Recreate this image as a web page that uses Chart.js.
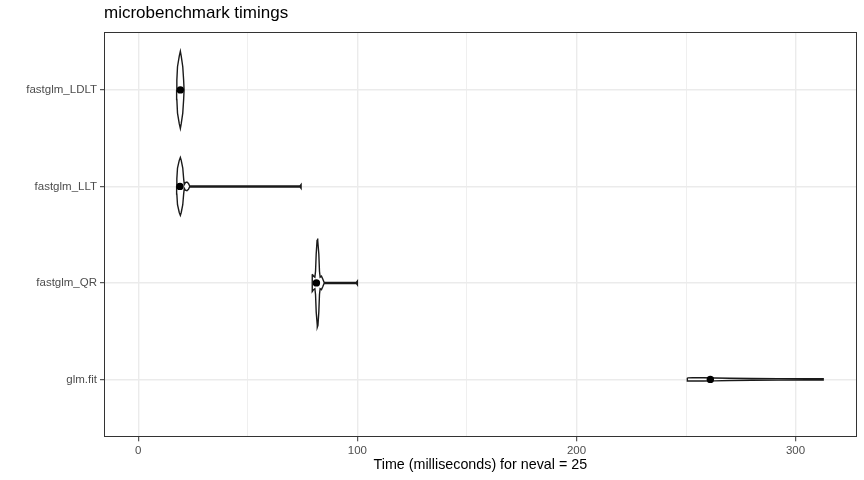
<!DOCTYPE html>
<html><head><meta charset="utf-8">
<script src="https://cdn.jsdelivr.net/npm/chart.js@4"></script>
<style>html,body{margin:0;padding:0;background:#fff}</style>
</head><body>
<canvas id="c" width="864" height="480" style="width:864px;height:480px;display:block"></canvas>
<script>
// ---- data ----
const categories = ['fastglm_LDLT', 'fastglm_LLT', 'fastglm_QR', 'glm.fit'];
const medians = [19.2, 19.0, 81.3, 261.1];
const xTickValues = [0, 50, 100, 150, 200, 250, 300];

// violin outlines: time (ms) and half-width (density width, category units)
const ldltTime = [17.5, 17.6, 17.9, 18.7, 19.2, 19.6, 20.3, 20.7, 20.9];
const ldltHalfWidth = [0, 0.10, 0.24, 0.35, 0.40, 0.35, 0.24, 0.10, 0];

const lltTime = [17.5, 17.6, 17.9, 18.7, 19.2, 19.6, 20.3, 20.7, 21.0, 21.5, 22.2, 22.9, 23.4, 73.8, 74.3];
const lltHalfWidth = [0, 0.08, 0.19, 0.27, 0.30, 0.27, 0.19, 0.08, 0.02, 0.04, 0.045, 0.03, 0.006, 0.005, 0.02];

const qrTime = [79.4, 80.0, 80.6, 80.9, 81.2, 81.6, 81.8, 82.0, 82.4, 82.7, 83.0, 83.6, 84.2, 84.8, 99.5, 100.0];
const qrHalfWidth = [0.09, 0.07, 0.06, 0.12, 0.30, 0.44, 0.46, 0.44, 0.30, 0.12, 0.06, 0.07, 0.04, 0.006, 0.005, 0.02];

const glmTime = [250.6, 253, 258, 263, 270, 280, 292, 305, 312.6];
const glmHalfWidth = [0.016, 0.017, 0.017, 0.015, 0.012, 0.009, 0.008, 0.007, 0.007];

// ---- build ----
function violinOutline(catIndex, times, halfWidths) {
  const pos = catIndex + 1;
  const upper = times.map((t, i) => ({x: t, y: pos - halfWidths[i]}));
  const lower = times.map((t, i) => ({x: t, y: pos + halfWidths[i]})).reverse();
  return upper.concat(lower, [upper[0]]);
}
const violins = [
  violinOutline(0, ldltTime, ldltHalfWidth),
  violinOutline(1, lltTime, lltHalfWidth),
  violinOutline(2, qrTime, qrHalfWidth),
  violinOutline(3, glmTime, glmHalfWidth)
];

const FONT = "'Liberation Sans', Arial, Helvetica, sans-serif";

const panelBorder = {
  id: 'panelBorder',
  afterDraw(chart) {
    const {ctx, chartArea: a} = chart;
    ctx.save();
    ctx.strokeStyle = '#333333';
    ctx.lineWidth = 1;
    ctx.strokeRect(Math.round(a.left) + 0.5, Math.round(a.top) + 0.5,
                   Math.round(a.right - a.left) - 1, Math.round(a.bottom - a.top) - 1);
    ctx.restore();
  }
};
const titleLeft = {
  id: 'titleLeft',
  afterLayout(chart) {
    if (chart.titleBlock) chart.titleBlock.left = chart.chartArea.left;
  }
};

const datasets = [{
  label: 'median',
  data: medians.map((m, i) => ({x: m, y: i + 1})),
  pointRadius: 3.7,
  pointBackgroundColor: '#000000',
  pointBorderWidth: 0,
  showLine: false
}].concat(violins.map((v, i) => ({
  label: categories[i],
  data: v,
  showLine: true,
  fill: 'shape',
  backgroundColor: '#FFFFFF',
  borderColor: '#1A1A1A',
  borderWidth: 1.4,
  pointRadius: 0,
  tension: 0
})));

new Chart(document.getElementById('c'), {
  type: 'scatter',
  data: {datasets},
  plugins: [panelBorder, titleLeft],
  options: {
    responsive: false,
    animation: false,
    devicePixelRatio: 1,
    layout: {padding: {left: 0, right: 7.3, top: 0, bottom: 6.4}},
    plugins: {
      legend: {display: false},
      tooltip: {enabled: false},
      title: {
        display: true,
        text: 'microbenchmark timings',
        align: 'start',
        color: '#000000',
        font: {family: FONT, size: 17, weight: 'normal'},
        padding: {top: 3, bottom: 8.6}
      }
    },
    scales: {
      x: {
        type: 'linear',
        min: -15.65,
        max: 327.9,
        afterBuildTicks(scale) { scale.ticks = xTickValues.map(v => ({value: v})); },
        afterFit(scale) { scale.height = 480 - 6.4 - 437.3; },
        ticks: {
          autoSkip: false, maxRotation: 0, padding: 3,
          color: '#4D4D4D',
          font: {family: FONT, size: 11.5},
          callback: (v) => (v % 100 === 0 ? String(v) : '')
        },
        grid: {
          color: '#EBEBEB',
          lineWidth: (ctx) => (ctx.tick && ctx.tick.value % 100 === 0 ? 1.4 : 0.8),
          tickColor: (ctx) => (ctx.tick && ctx.tick.value % 100 === 0 ? '#333333' : 'rgba(0,0,0,0)'),
          tickLength: 4,
          tickWidth: 1
        },
        border: {display: false},
        title: {
          display: true,
          text: 'Time (milliseconds) for neval = 25',
          color: '#000000',
          font: {family: FONT, size: 14.3},
          padding: {top: 0, bottom: 0}
        }
      },
      y: {
        type: 'linear',
        min: 0.4,
        max: 4.6,
        reverse: true,
        afterBuildTicks(scale) { scale.ticks = categories.map((c, i) => ({value: i + 1})); },
        afterFit(scale) { scale.width = 104; },
        ticks: {
          autoSkip: false, padding: 3,
          color: '#4D4D4D',
          font: {family: FONT, size: 11.5},
          callback: (v) => categories[v - 1]
        },
        grid: {
          color: '#EBEBEB',
          lineWidth: 1.4,
          tickColor: '#333333',
          tickLength: 4,
          tickWidth: 1
        },
        border: {display: false}
      }
    }
  }
});
</script>
</body></html>
